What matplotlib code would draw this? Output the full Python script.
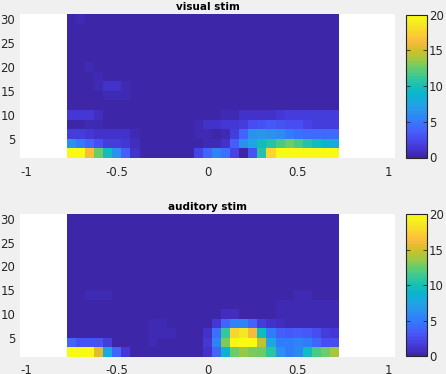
import numpy as np
import matplotlib
matplotlib.use("Agg")
import matplotlib.pyplot as plt
from matplotlib.colors import LinearSegmentedColormap

# datos: bins de tiempo (centros) y profundidad
t_bins = np.round(np.arange(-0.75, 0.74, 0.05), 2)   # 30 bins
depth = np.arange(2, 31, 2)                           # 15 filas

b = 0.2
visual = [
    [20, 20, 16.5, 12.5, 9.5, 6.5, 3.5, 1.2, b, b, b, b, b, b, 2, 3.8, 5.5, 4.5, 2, 0, 3, 10.5, 17.5, 20, 20, 20, 20, 20, 20, 20],
    [6.5, 5, 4, 2.5, 1.6, 1.6, 1.3, 0.8, b, b, b, b, b, b, b, 0.4, 0.4, 1.2, 3.5, 6.5, 7.5, 9.5, 10.5, 11.8, 12.5, 11.8, 10.5, 9.5, 9, 8],
    [1.8, 1.8, 1.5, 1.2, 1.2, 1.2, 1.2, 0.6, b, b, b, b, b, b, 0.5, 0.6, 0, 0.6, 1.8, 3.8, 6.5, 6.8, 6.5, 6, 5.2, 4.6, 4.3, 4.3, 4.3, 4.3],
    [0, 0, 0.5, 0.5, b, b, b, b, b, b, b, b, b, b, 0.6, 1, 1.2, 1.3, 1.3, 1.8, 2.5, 3, 3.3, 3, 2.8, 2.8, 1.9, 1.8, 1.8, 1.8],
    [1.4, 1.4, 1.4, 0.8, b, b, b, b, b, b, b, b, b, b, b, b, b, 0.6, 0.6, 1, 1, 1.2, 1.2, 1.4, 1.7, 1.7, 1.7, 1.7, 1.8, 1.8],
    [b] * 30,
    [b, b, b, b, 0.6, 0.6, 0.6] + [b] * 23,
    [b, b, b, 0.6, 1.2, 1.2, 0.6] + [b] * 23,
    [b, b, b, 0.6] + [b] * 26,
    [b, b, 0.6] + [b] * 27,
    [b] * 30,
    [b] * 30,
    [b] * 30,
    [b] * 30,
    [b, 0.6] + [b] * 28,
]

auditory = [
    [20, 20, 20, 15.5, 8, 4, 1.5, b, b, b, b, b, b, b, b, 1.2, 4, 8.5, 12.5, 13.5, 13, 12.5, 10.8, 6.5, 5, 5.8, 9.5, 11.7, 12.5, 14],
    [4, 3, 3, 3, 1.7, b, b, b, b, 0.5, b, b, b, b, b, 1.3, 5.5, 13, 19.5, 20, 20, 14.5, 7.5, 5, 5, 5.5, 5, 4, 2.5, 2.5],
    [b, b, b, b, b, b, b, b, b, 0.6, 0.6, 0.6, b, b, b, 1.2, 4.5, 11, 17.5, 18.5, 16, 9.5, 5, 3.5, 3.2, 3.5, 3.3, 2.5, 1.8, 1.3],
    [b, b, b, b, b, b, b, b, b, 0.6, 0.6, b, b, b, b, 0.3, 1.5, 3.8, 5.5, 5.5, 4, 1.8, 1.2, 0.8, 0.5, 0.4, 0.4, 0.4, 0.5, 0.4],
    [b] * 17 + [0.7, 0.7, b, b, b, b, 0.6, 0.4, 0.4, 0.4, 0.4, 0.4, 0.4],
    [b] * 23 + [0.4, 0.4, 0.4, 0.4, 0.4, 0.5, 0.5],
    [b, b, 0.6, 0.6, 0.6] + [b] * 20 + [0.6, 0.6, b, b, b],
    [b] * 30,
    [b] * 30,
    [b] * 30,
    [b] * 30,
    [b] * 30,
    [b] * 30,
    [b] * 30,
    [b] * 30,
]

titles = ["visual stim", "auditory stim"]
cbar_ticks = [0, 5, 10, 15, 20]
x_ticks = [-1, -0.5, 0, 0.5, 1]
x_ticklabels = ['-1', '-0.5', '0', '0.5', '1']
y_ticks = [5, 10, 15, 20, 25, 30]

# colormap parula (aprox.)
parula_pts = [
    (0.2422, 0.1504, 0.6603), (0.2706, 0.2147, 0.8364), (0.2813, 0.3006, 0.9414),
    (0.2699, 0.3892, 0.9906), (0.1963, 0.4847, 0.9892), (0.1687, 0.5703, 0.9359),
    (0.1248, 0.6459, 0.8883), (0.0297, 0.7082, 0.8163), (0.0964, 0.7500, 0.7120),
    (0.2161, 0.7843, 0.5923), (0.3909, 0.8029, 0.4354), (0.6174, 0.7876, 0.2612),
    (0.8203, 0.7498, 0.1535), (0.9728, 0.7298, 0.2394), (0.9892, 0.8136, 0.1885),
    (0.9597, 0.9135, 0.1423), (0.9769, 0.9839, 0.0805),
]
parula = LinearSegmentedColormap.from_list("parula", parula_pts, N=64)

txt_col = '#262626'
fs = 8.5

fig = plt.figure(figsize=(4.46, 3.74), dpi=100, facecolor='#f0f0f0')
ax_pos = [[20/446, (374-158)/374, 375/446, 144/374],
          [20/446, (374-356.7)/374, 375/446, 142.7/374]]
cb_pos = [[406/446, (374-157.5)/374, 21/446, 143/374],
          [406/446, (374-356)/374, 21/446, 141.8/374]]

dx = t_bins[1] - t_bins[0]
dy = depth[1] - depth[0]
extent = [t_bins[0] - dx/2, t_bins[-1] + dx/2, depth[0] - dy/2, depth[-1] + dy/2]

for data, title, pos, cpos in zip([visual, auditory], titles, ax_pos, cb_pos):
    ax = fig.add_axes(pos)
    ax.set_facecolor('white')
    im = ax.imshow(np.array(data), extent=extent, origin='lower', aspect='auto',
                   cmap=parula, vmin=0, vmax=20, interpolation='nearest')
    ax.set_xlim(-1.037, 1.037)
    ax.set_ylim(extent[2], extent[3])
    ax.set_xticks(x_ticks)
    ax.set_xticklabels(x_ticklabels)
    ax.set_yticks(y_ticks)
    ax.tick_params(length=0, colors=txt_col, labelsize=fs)
    ax.tick_params(axis='x', pad=5.5)
    ax.tick_params(axis='y', pad=3.5)
    for s in ax.spines.values():
        s.set_visible(False)
    ax.set_title(title, fontsize=7.5, fontweight='bold', pad=3)

    cax = fig.add_axes(cpos)
    cb = fig.colorbar(im, cax=cax, ticks=cbar_ticks)
    cb.outline.set_linewidth(0.8)
    cb.outline.set_edgecolor('#262626')
    cax.tick_params(direction='in', left=True, right=True, length=3,
                    width=0.6, colors=txt_col, labelsize=fs, pad=1.5)

plt.savefig("out.png", dpi=100, facecolor=fig.get_facecolor())
